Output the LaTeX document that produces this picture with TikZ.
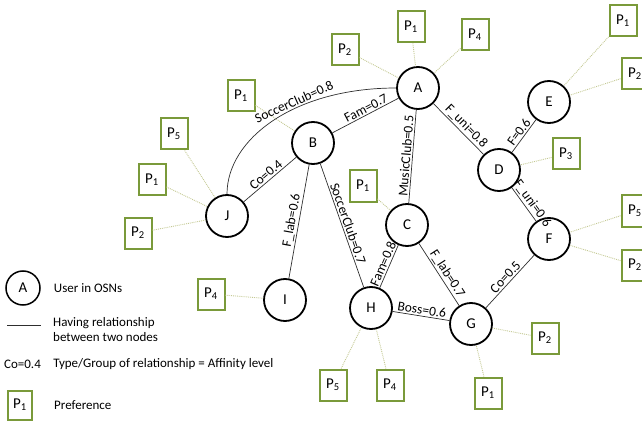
\documentclass[tikz,border=0pt]{standalone}
\usepackage{fontspec}
\setmainfont{Carlito}
\usepackage{tikz}
\usetikzlibrary{positioning}
\definecolor{prefgreen}{HTML}{7A9A3A}
\definecolor{preflink}{HTML}{C4C994}
\definecolor{edgegray}{HTML}{2E2E2E}

\begin{document}
\begin{tikzpicture}[x=1pt, y=-1pt,
  user/.style={circle, draw, line width=1.8pt, minimum size=42pt, inner sep=0pt,
    font=\fontsize{15}{15}\selectfont},
  pref/.style={draw=prefgreen, line width=2pt, minimum width=27pt, minimum height=31pt,
    inner sep=0pt, font=\fontsize{15}{15}\selectfont},
  rel/.style={draw=edgegray, line width=0.7pt},
  plink/.style={draw=preflink, line width=0.9pt, densely dotted},
  lbl/.style={font=\fontsize{13.5}{14}\selectfont, sloped, above, inner sep=1.5pt},
  legtext/.style={font=\fontsize{13}{15.5}\selectfont, align=left, inner sep=0pt}]
  \useasboundingbox (0,0) rectangle (642,422);
  \clip (0,0) rectangle (642,422);

  % users
  \node[user] (A) at (418,88) {A};
  \node[user] (B) at (313,143) {B};
  \node[user] (C) at (407,225) {C};
  \node[user] (D) at (499,170) {D};
  \node[user] (E) at (549,102) {E};
  \node[user] (F) at (549,239) {F};
  \node[user] (G) at (471,324) {G};
  \node[user] (H) at (371,308) {H};
  \node[user] (I) at (285,300) {I};
  \node[user] (J) at (227,216) {J};

  % preferences
  \node[pref] (pA2) at (345,50) {P\textsubscript{2}};
  \node[pref] (pA1) at (411,27) {P\textsubscript{1}};
  \node[pref] (pA4) at (475,35) {P\textsubscript{4}};
  \node[pref] (pE1) at (623,21) {P\textsubscript{1}};
  \node[pref] (pE2) at (635,74) {P\textsubscript{2}};
  \node[pref] (pD3) at (566,154) {P\textsubscript{3}};
  \node[pref] (pB1) at (241,96) {P\textsubscript{1}};
  \node[pref] (pJ5) at (174,134) {P\textsubscript{5}};
  \node[pref] (pJ1) at (152,180) {P\textsubscript{1}};
  \node[pref] (pJ2) at (138,233) {P\textsubscript{2}};
  \node[pref] (pI4) at (211,294) {P\textsubscript{4}};
  \node[pref] (pC1) at (363,186) {P\textsubscript{1}};
  \node[pref] (pF5) at (635,211) {P\textsubscript{5}};
  \node[pref] (pF2) at (635,265) {P\textsubscript{2}};
  \node[pref] (pG2) at (545,338) {P\textsubscript{2}};
  \node[pref] (pG1) at (488,393) {P\textsubscript{1}};
  \node[pref] (pH5) at (333,385) {P\textsubscript{5}};
  \node[pref] (pH4) at (390,385) {P\textsubscript{4}};

  \draw[plink] (pA2) -- (A);
  \draw[plink] (pA1) -- (A);
  \draw[plink] (pA4) -- (A);
  \draw[plink] (pE1) -- (E);
  \draw[plink] (pE2) -- (E);
  \draw[plink] (pD3) -- (D);
  \draw[plink] (pB1) -- (B);
  \draw[plink] (pJ5) -- (J);
  \draw[plink] (pJ1) -- (J);
  \draw[plink] (pJ2) -- (J);
  \draw[plink] (pI4) -- (I);
  \draw[plink] (pC1) -- (C);
  \draw[plink] (pF5) -- (F);
  \draw[plink] (pF2) -- (F);
  \draw[plink] (pG2) -- (G);
  \draw[plink] (pG1) -- (G);
  \draw[plink] (pH5) -- (H);
  \draw[plink] (pH4) -- (H);

  % relationships
  \draw[rel] (J.north) .. controls +(0,-55) and +(-102,0) .. node[lbl, pos=0.62] {SoccerClub=0.8} (A.west);
  \draw[rel] (J) -- node[lbl] {Co=0.4} (B);
  \draw[rel] (B) -- node[lbl, pos=0.55] {Fam=0.7} (A);
  \draw[rel] (B) -- node[lbl] {F\_lab=0.6} (I);
  \draw[rel] (B) -- node[lbl] {SoccerClub=0.7} (H);
  \draw[rel] (A) -- node[lbl] {MusicClub=0.5} (C);
  \draw[rel] (A) -- node[lbl, pos=0.55] {F\_uni=0.8} (D);
  \draw[rel] (D) -- node[lbl] {F=0.6} (E);
  \draw[rel] (D) -- node[lbl, pos=0.6] {F\_uni=0.6} (F);
  \draw[rel] (C) -- node[lbl] {Fam=0.8} (H);
  \draw[rel] (C) -- node[lbl, pos=0.55] {F\_lab=0.7} (G);
  \draw[rel] (H) -- node[lbl] {Boss=0.6} (G);
  \draw[rel] (G) -- node[lbl] {Co=0.5} (F);

  % legend
  \node[user, minimum size=34pt, line width=1.5pt] (legA) at (23,288) {A};
  \node[legtext, right=13pt of legA] (legtxtA) {User in OSNs};
  \coordinate (legl1) at (7,325);
  \coordinate (legl2) at (41,325);
  \draw[rel] (legl1) -- (legl2);
  \node[legtext, anchor=north west] (legtxtR) at (53,317) {Having relationship\\between two nodes};
  \node[legtext] (legCo) at (22.5,364) {Co=0.4};
  \node[legtext, right=12pt of legCo] (legtxtCo) {Type/Group of relationship = Affinity level};
  \node[pref, minimum width=24pt, minimum height=29pt] (legP) at (20,405) {P\textsubscript{1}};
  \node[legtext, right=21pt of legP] (legtxtP) {Preference};
\end{tikzpicture}
\end{document}
